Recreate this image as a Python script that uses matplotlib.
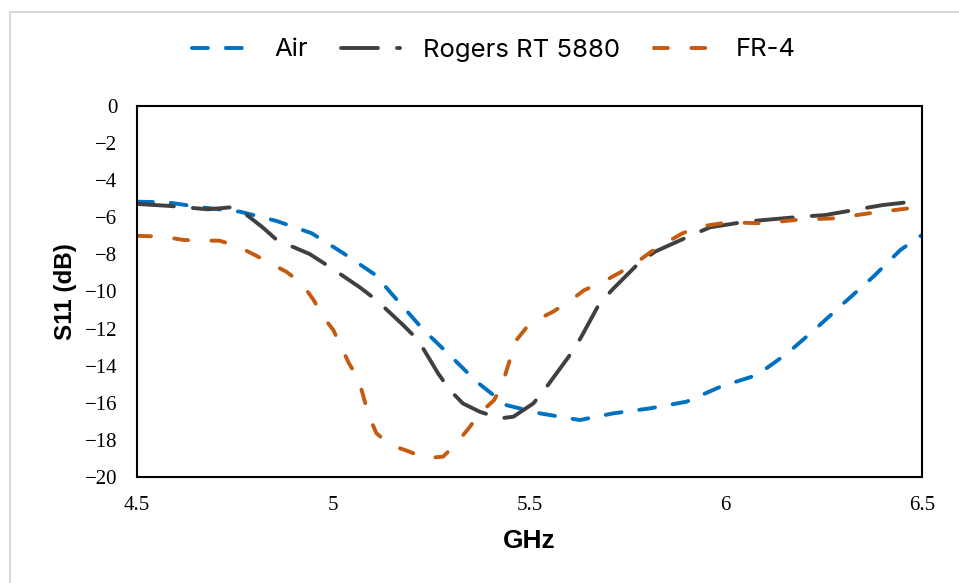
import matplotlib.pyplot as plt
from matplotlib.patches import Rectangle

# S11 readings (GHz, dB)
air_f = [4.5, 4.575, 4.664, 4.763, 4.856, 4.945, 5.026, 5.107, 5.17, 5.23, 5.30,
         5.365, 5.44, 5.527, 5.628, 5.713, 5.807, 5.90, 5.987, 6.08, 6.157, 6.23,
         6.30, 6.376, 6.445, 6.5]
air_s11 = [-5.16, -5.19, -5.46, -5.7, -6.2, -6.86, -7.94, -9.1, -10.64, -12.07, -13.5,
           -14.86, -16.12, -16.57, -16.93, -16.57, -16.3, -15.94, -15.13, -14.5, -13.33, -11.99,
           -10.64, -9.2, -7.76, -6.95]

rogers_f = [4.5, 4.585, 4.68, 4.74, 4.78, 4.82, 4.856, 4.94, 4.99, 5.068, 5.11, 5.178,
            5.216, 5.267, 5.297, 5.33, 5.373, 5.425, 5.459, 5.51, 5.544, 5.6, 5.63, 5.676,
            5.71, 5.778, 5.82, 5.909, 5.96, 6.053, 6.197, 6.253, 6.35, 6.40, 6.5]
rogers_s11 = [-5.28, -5.39, -5.57, -5.46, -5.88, -6.54, -7.22, -7.98, -8.66, -9.78, -10.46, -11.81,
              -12.61, -14.41, -15.31, -16.03, -16.48, -16.84, -16.75, -16.03, -15.13, -13.51, -12.52, -10.73,
              -9.92, -8.48, -7.85, -7.0, -6.54, -6.23, -5.96, -5.88, -5.52, -5.34, -5.1]

fr4_f = [4.5, 4.567, 4.618, 4.66, 4.71, 4.755, 4.80, 4.84, 4.88, 4.92, 4.95, 4.974,
         5.0, 5.02, 5.04, 5.065, 5.077, 5.09, 5.11, 5.145, 5.19, 5.235, 5.28, 5.31,
         5.345, 5.373, 5.41, 5.43, 5.45, 5.467, 5.49, 5.518, 5.56, 5.6, 5.64, 5.68,
         5.727, 5.77, 5.806, 5.845, 5.89, 5.935, 5.99, 6.033, 6.09, 6.18, 6.28, 6.376, 6.5]
fr4_s11 = [-7.0, -7.04, -7.22, -7.26, -7.26, -7.55, -8.03, -8.48, -8.93, -9.56, -10.46, -11.36,
           -12.07, -12.97, -13.87, -14.77, -15.67, -16.66, -17.64, -18.27, -18.6, -18.99, -18.9, -18.27,
           -17.38, -16.57, -15.85, -15.04, -13.69, -12.61, -12.0, -11.54, -11.09, -10.55, -9.92, -9.56,
           -9.02, -8.48, -7.91, -7.40, -6.86, -6.5, -6.32, -6.29, -6.32, -6.14, -6.05, -5.75, -5.43]

x_ticks = [4.5, 5, 5.5, 6, 6.5]
x_labels = ['4.5', '5', '5.5', '6', '6.5']
y_ticks = list(range(-20, 1, 2))

fig = plt.figure(figsize=(9.59, 5.83), dpi=100)
ax = fig.add_axes([137 / 959, 1 - 477 / 583, 785 / 959, 371 / 583])

lw = 2.8
ax.plot(air_f, air_s11, color='#0070C0', lw=lw, dashes=(4.1, 4.6),
        dash_capstyle='round', label='Air')
ax.plot(rogers_f, rogers_s11, color='#404040', lw=lw, dashes=(9.5, 4.9),
        dash_capstyle='round', label='Rogers RT 5880')
ax.plot(fr4_f, fr4_s11, color='#C55A11', lw=lw, dashes=(3.6, 6.0),
        dash_capstyle='round', label='FR-4')

ax.set_xlim(4.5, 6.5)
ax.set_ylim(-20, 0)
ax.set_xticks(x_ticks)
ax.set_xticklabels(x_labels)
ax.set_yticks(y_ticks)
ax.set_yticklabels(['\u2212' + str(-v) if v < 0 else str(v) for v in y_ticks])
ax.tick_params(length=0, labelsize=15)
ax.tick_params(axis='x', pad=14)
ax.tick_params(axis='y', pad=14)
for lab in ax.get_xticklabels() + ax.get_yticklabels():
    lab.set_family('Liberation Serif')
for s in ax.spines.values():
    s.set_linewidth(1.5)

ax.set_xlabel('GHz', fontsize=19, fontweight='bold', family='Liberation Sans', labelpad=10)
ax.set_ylabel('S11 (dB)', fontsize=17.5, fontweight='bold', family='Liberation Sans', labelpad=6)

fig.legend(loc='center', bbox_to_anchor=(0.515, 1 - 50 / 583), ncol=3, frameon=False,
           prop={'family': 'Inter', 'size': 18.5}, handlelength=2.3, columnspacing=1.3,
           handletextpad=0.9)

# light grey frame (right and bottom edges fall outside the canvas)
fig.patches.append(Rectangle((9.5 / 959, -0.05), 1.0, 1.05 - 12 / 583, transform=fig.transFigure,
                             fill=False, edgecolor='#d9d9d9', lw=1.5))

fig.savefig('out.png', dpi=100)
